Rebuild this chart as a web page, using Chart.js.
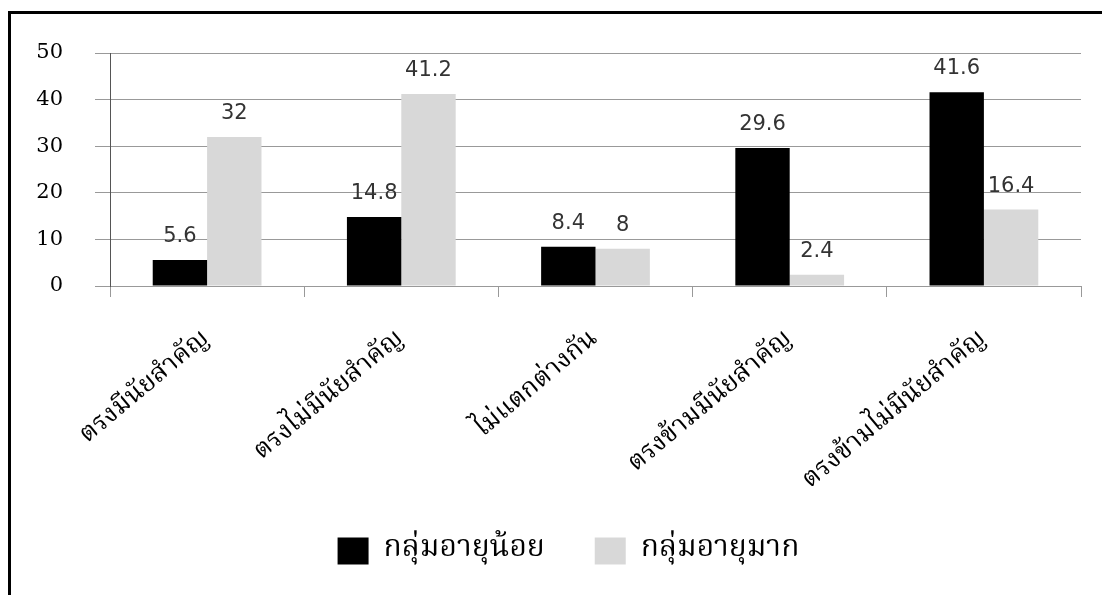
<!DOCTYPE html>
<html>
<head>
<meta charset="utf-8">
<script src="https://cdn.jsdelivr.net/npm/chart.js@4.4.0/dist/chart.umd.min.js"></script>
<style>
  html, body { margin: 0; padding: 0; background: #fff; }
  .frame {
    position: absolute; left: 8px; top: 11px; right: 0; bottom: 0;
    border-left: 3px solid #000; border-top: 3px solid #000;
  }
  #chart { position: absolute; left: 0; top: 0; }
</style>
</head>
<body>
<div class="frame"></div>
<canvas id="chart" width="1102" height="595"></canvas>
<script>
const categories = [
  "ตรงมีนัยสำคัญ",
  "ตรงไม่มีนัยสำคัญ",
  "ไม่แตกต่างกัน",
  "ตรงข้ามมีนัยสำคัญ",
  "ตรงข้ามไม่มีนัยสำคัญ",
];
const seriesNames = ["กลุ่มอายุน้อย", "กลุ่มอายุมาก"];
const youngGroup = [5.6, 14.8, 8.4, 29.6, 41.6];
const oldGroup = [32, 41.2, 8, 2.4, 16.4];
const yMin = 0;
const yMax = 50;
const yStep = 10;

const thaiFont = "'Noto Serif Thai', 'Norasi', 'Loma', 'Noto Sans Thai', serif";

// value printed above every bar
const valueLabels = {
  id: "valueLabels",
  afterDatasetsDraw(chart) {
    const ctx = chart.ctx;
    ctx.save();
    ctx.font = "21px 'DejaVu Sans'";
    ctx.fillStyle = "#333";
    ctx.textAlign = "center";
    ctx.textBaseline = "alphabetic";
    chart.data.datasets.forEach((ds, i) => {
      chart.getDatasetMeta(i).data.forEach((bar, j) => {
        ctx.fillText(String(ds.data[j]), bar.x, bar.y - 18);
      });
    });
    ctx.restore();
  },
};

// push the legend a bit right of the canvas centre
const legendShift = {
  id: "legendShift",
  afterLayout(chart) {
    chart.legend.left += 28;
    chart.legend.right += 28;
  },
};

const ctx = document.getElementById("chart").getContext("2d");
new Chart(ctx, {
  type: "bar",
  data: {
    labels: categories,
    datasets: [
      { label: seriesNames[0], data: youngGroup, backgroundColor: "#000000" },
      { label: seriesNames[1], data: oldGroup, backgroundColor: "#d8d8d8" },
    ],
  },
  options: {
    responsive: false,
    animation: false,
    devicePixelRatio: 1,
    layout: { padding: { top: 53, right: 21, bottom: 19, left: 0 } },
    datasets: {
      bar: { categoryPercentage: 0.56, barPercentage: 1 },
    },
    plugins: {
      tooltip: { enabled: false },
      legend: {
        position: "bottom",
        labels: {
          boxWidth: 31,
          boxHeight: 27,
          padding: 50,
          color: "#000",
          font: { family: thaiFont, size: 30 },
        },
      },
    },
    scales: {
      x: {
        grid: {
          offset: true,
          drawOnChartArea: false,
          color: "#999",
          tickLength: 11,
        },
        border: { color: "#999" },
        ticks: {
          minRotation: 40,
          maxRotation: 40,
          padding: 28,
          color: "#000",
          font: { family: thaiFont, size: 26 },
        },
        afterFit(scale) {
          scale.height = 200;
        },
      },
      y: {
        min: yMin,
        max: yMax,
        ticks: {
          stepSize: yStep,
          padding: 32,
          color: "#000",
          font: { family: "'DejaVu Serif'", size: 21 },
        },
        grid: { color: "#999", tickLength: 15 },
        border: { color: "#555" },
        afterFit(scale) {
          scale.width = 110;
        },
      },
    },
  },
  plugins: [valueLabels, legendShift],
});
</script>
</body>
</html>
